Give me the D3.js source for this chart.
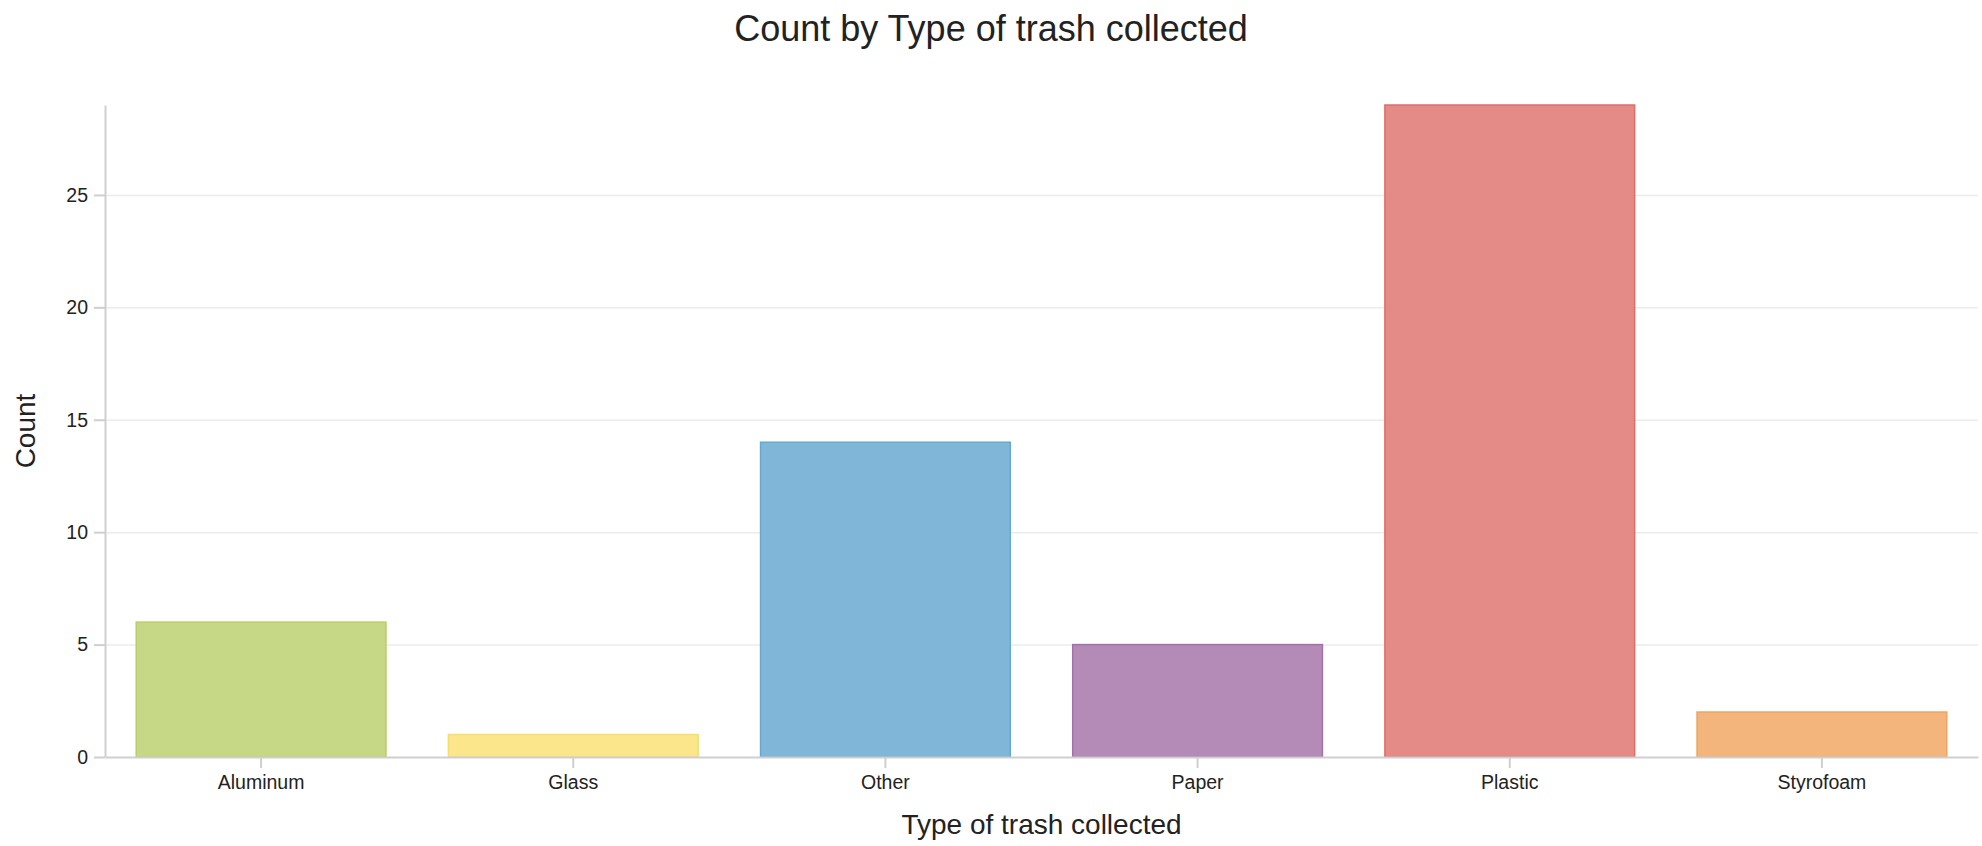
<!DOCTYPE html>
<html>
<head>
<meta charset="utf-8">
<script src="https://cdn.jsdelivr.net/npm/d3@7"></script>
<style>
  html, body { margin: 0; padding: 0; background: #fff; }
  svg { display: block; font-family: "Liberation Sans", Arial, Helvetica, sans-serif; }
  .grid line { stroke: #ebebeb; stroke-width: 1.5; }
  .grid .domain { display: none; }
  .axis .domain, .axis line { stroke: #cfcfcf; stroke-width: 2; }
  .axis text { fill: #222; font-size: 19.5px; }
</style>
</head>
<body>
<svg id="chart"></svg>
<script>
const categories = ["Aluminum", "Glass", "Other", "Paper", "Plastic", "Styrofoam"];
const counts = [6, 1, 14, 5, 29, 2];
const yTicks = [0, 5, 10, 15, 20, 25];
const fillColors = ["#c6d786", "#fbe68b", "#80b7d8", "#b38bb6", "#e58b87", "#f3b57c"];
const strokeColors = ["#b8cf64", "#f5dd6e", "#65a9d1", "#a371a8", "#e06c67", "#eea462"];

const width = 1982, height = 846;
const margin = { top: 105, right: 4, bottom: 89, left: 105 };
const innerW = width - margin.left - margin.right;
const innerH = height - margin.top - margin.bottom;

const svg = d3.select("#chart").attr("width", width).attr("height", height);

const x = d3.scaleBand().domain(categories).range([0, innerW]).paddingInner(0.2).paddingOuter(0.1);
const y = d3.scaleLinear().domain([0, d3.max(counts)]).range([innerH, 0]);
const color = d3.scaleOrdinal().domain(categories).range(fillColors);
const stroke = d3.scaleOrdinal().domain(categories).range(strokeColors);

const g = svg.append("g").attr("transform", `translate(${margin.left},${margin.top})`);

// gridlines
g.append("g")
  .attr("class", "grid")
  .call(d3.axisLeft(y).tickValues(yTicks.filter((d) => d > 0)).tickSize(-innerW).tickFormat(""));

// bars
g.selectAll("rect.bar")
  .data(categories.map((c, i) => ({ cat: c, val: counts[i] })))
  .join("rect")
  .attr("class", "bar")
  .attr("x", (d) => x(d.cat))
  .attr("y", (d) => y(d.val))
  .attr("width", x.bandwidth())
  .attr("height", (d) => innerH - y(d.val))
  .attr("fill", (d) => color(d.cat))
  .attr("stroke", (d) => stroke(d.cat))
  .attr("stroke-width", 1.5);

// axes
g.append("g")
  .attr("class", "axis")
  .attr("transform", `translate(0,${innerH})`)
  .call(d3.axisBottom(x).tickSize(11).tickSizeOuter(0).tickPadding(7));

g.append("g")
  .attr("class", "axis")
  .call(d3.axisLeft(y).tickValues(yTicks).tickSize(11).tickSizeOuter(0).tickPadding(6));

// titles
svg.append("text")
  .attr("x", width / 2)
  .attr("y", 41)
  .attr("text-anchor", "middle")
  .attr("fill", "#222")
  .style("font-size", "36px")
  .text("Count by Type of trash collected");

svg.append("text")
  .attr("x", margin.left + innerW / 2)
  .attr("y", 834)
  .attr("text-anchor", "middle")
  .attr("fill", "#222")
  .style("font-size", "28px")
  .text("Type of trash collected");

svg.append("text")
  .attr("transform", `translate(35,${margin.top + innerH / 2}) rotate(-90)`)
  .attr("text-anchor", "middle")
  .attr("fill", "#222")
  .style("font-size", "28px")
  .text("Count");
</script>
</body>
</html>
